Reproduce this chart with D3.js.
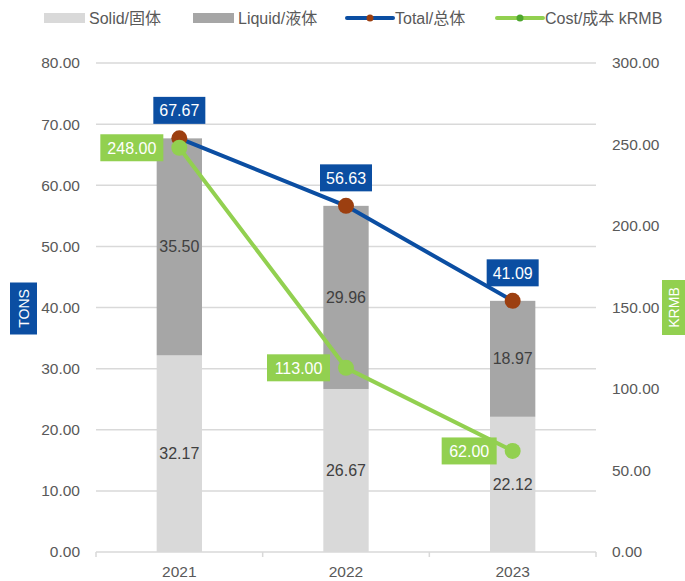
<!DOCTYPE html>
<html>
<head>
<meta charset="utf-8">
<script src="https://cdn.jsdelivr.net/npm/d3@7"></script>
<style>
  body { margin: 0; background: #fff; }
  text { font-family: "Liberation Sans", Arial, "Noto Sans CJK SC", sans-serif; }
</style>
</head>
<body>
<svg id="chart" width="685" height="581"></svg>
<script>
'use strict';

var years = ['2021', '2022', '2023']
  , solid = [32.17, 26.67, 22.12]
  , liquid = [35.50, 29.96, 18.97]
  , total = [67.67, 56.63, 41.09]
  , cost = [248.00, 113.00, 62.00]
  , leftTicks = [0, 10, 20, 30, 40, 50, 60, 70, 80]
  , rightTicks = [0, 50, 100, 150, 200, 250, 300]
  , legendNames = ['Solid/固体', 'Liquid/液体', 'Total/总体', 'Cost/成本 kRMB']
;

var width = 685
  , height = 581
  , margin = {top: 63, right: 90, bottom: 29, left: 96}
  , cSolid = '#d9d9d9'
  , cLiquid = '#a6a6a6'
  , cBlue = '#0b4ea2'
  , cBrown = '#9c3f10'
  , cGreen = '#92d050'
  , cText = '#595959'
  , cGrid = '#d9d9d9'
;

var svg = d3.select('#chart');
var plotLeft = margin.left
  , plotRight = width - margin.right + 1
  , plotTop = margin.top
  , plotBottom = height - margin.bottom;

var x = d3.scaleBand().domain(years).range([plotLeft, plotRight]).padding(0);
var yL = d3.scaleLinear().domain([0, 80]).range([plotBottom, plotTop]);
var yR = d3.scaleLinear().domain([0, 300]).range([plotBottom, plotTop]);
var barW = x.bandwidth() * 0.272;
var cx = function(d, i) { return x(years[i]) + x.bandwidth() / 2; };

// gridlines
svg.append('g').selectAll('line').data(leftTicks.slice(1)).enter().append('line')
  .attr('x1', plotLeft).attr('x2', plotRight)
  .attr('y1', function(d) { return yL(d); }).attr('y2', function(d) { return yL(d); })
  .attr('stroke', cGrid).attr('stroke-width', 1.5);

// left axis labels
svg.append('g').selectAll('text').data(leftTicks).enter().append('text')
  .attr('x', 80).attr('y', function(d) { return yL(d); })
  .attr('dy', '0.35em').attr('text-anchor', 'end')
  .attr('fill', cText).style('font-size', '15.5px')
  .text(function(d) { return d.toFixed(2); });

// right axis labels
svg.append('g').selectAll('text').data(rightTicks).enter().append('text')
  .attr('x', 612).attr('y', function(d) { return yR(d); })
  .attr('dy', '0.35em').attr('text-anchor', 'start')
  .attr('fill', cText).style('font-size', '15.5px')
  .text(function(d) { return d.toFixed(2); });

// stacked bars
var stackData = years.map(function(y, i) { return {year: y, solid: solid[i], liquid: liquid[i]}; });
var series = d3.stack().keys(['solid', 'liquid'])(stackData);
var colors = {solid: cSolid, liquid: cLiquid};

var layers = svg.append('g').selectAll('g').data(series).enter().append('g')
  .attr('fill', function(d) { return colors[d.key]; });

layers.selectAll('rect').data(function(d) { return d; }).enter().append('rect')
  .attr('x', function(d) { return x(d.data.year) + (x.bandwidth() - barW) / 2; })
  .attr('width', barW)
  .attr('y', function(d) { return yL(d[1]); })
  .attr('height', function(d) { return yL(d[0]) - yL(d[1]); });

layers.selectAll('text').data(function(d) { return d; }).enter().append('text')
  .attr('x', function(d) { return x(d.data.year) + x.bandwidth() / 2; })
  .attr('y', function(d) { return (yL(d[0]) + yL(d[1])) / 2; })
  .attr('dy', '0.35em').attr('text-anchor', 'middle')
  .attr('fill', '#404040').style('font-size', '16px')
  .text(function(d) { return (d[1] - d[0]).toFixed(2); });

// x axis
var xAxis = svg.append('g');
xAxis.append('line')
  .attr('x1', plotLeft).attr('x2', plotRight)
  .attr('y1', plotBottom).attr('y2', plotBottom)
  .attr('stroke', cGrid).attr('stroke-width', 1.5);
xAxis.selectAll('line.tick').data(years.concat(['end'])).enter().append('line')
  .attr('class', 'tick')
  .attr('x1', function(d, i) { return plotLeft + i * x.step(); })
  .attr('x2', function(d, i) { return plotLeft + i * x.step(); })
  .attr('y1', plotBottom).attr('y2', plotBottom + 5)
  .attr('stroke', cGrid).attr('stroke-width', 1.5);
xAxis.selectAll('text').data(years).enter().append('text')
  .attr('x', cx).attr('y', 572)
  .attr('dy', '0.35em').attr('text-anchor', 'middle')
  .attr('fill', cText).style('font-size', '15.5px')
  .text(function(d) { return d; });

// total line
var lineL = d3.line().x(cx).y(function(d) { return yL(d); });
var lineR = d3.line().x(cx).y(function(d) { return yR(d); });

svg.append('path').datum(total).attr('d', lineL)
  .attr('fill', 'none').attr('stroke', cBlue).attr('stroke-width', 4);
svg.append('g').selectAll('circle').data(total).enter().append('circle')
  .attr('cx', cx).attr('cy', function(d) { return yL(d); }).attr('r', 8)
  .attr('fill', cBrown);

// cost line
svg.append('path').datum(cost).attr('d', lineR)
  .attr('fill', 'none').attr('stroke', cGreen).attr('stroke-width', 4);
svg.append('g').selectAll('circle').data(cost).enter().append('circle')
  .attr('cx', cx).attr('cy', function(d) { return yR(d); }).attr('r', 8)
  .attr('fill', cGreen);

// total labels (box above point)
var tl = svg.append('g').selectAll('g').data(total).enter().append('g')
  .attr('transform', function(d, i) { return 'translate(' + cx(d, i) + ',' + (yL(d) - 28) + ')'; });
tl.append('rect').attr('x', -26).attr('y', -13.5).attr('width', 52).attr('height', 27).attr('fill', cBlue);
tl.append('text').attr('text-anchor', 'middle').attr('dy', '0.36em')
  .attr('fill', '#fff').style('font-size', '16px')
  .text(function(d) { return d.toFixed(2); });

// cost labels (box left of point)
var cl = svg.append('g').selectAll('g').data(cost).enter().append('g')
  .attr('transform', function(d, i) { return 'translate(' + (cx(d, i) - 16) + ',' + yR(d) + ')'; });
cl.append('rect')
  .attr('x', function(d) { return d >= 100 ? -63 : -55; })
  .attr('width', function(d) { return d >= 100 ? 63 : 55; })
  .attr('y', -13.5).attr('height', 27).attr('fill', cGreen);
cl.append('text').attr('text-anchor', 'middle').attr('dy', '0.36em')
  .attr('x', function(d) { return d >= 100 ? -31.5 : -27.5; })
  .attr('fill', '#fff').style('font-size', '16px')
  .text(function(d) { return d.toFixed(2); });

// axis titles
var tTons = svg.append('g').attr('transform', 'translate(23.5,308.5) rotate(-90)');
tTons.append('rect').attr('x', -26).attr('y', -13.5).attr('width', 52).attr('height', 27).attr('fill', cBlue);
tTons.append('text').attr('text-anchor', 'middle').attr('dy', '0.36em')
  .attr('fill', '#fff').style('font-size', '14px').text('TONS');

var tKrmb = svg.append('g').attr('transform', 'translate(674,307.5) rotate(-90)');
tKrmb.append('rect').attr('x', -27.5).attr('y', -12).attr('width', 55).attr('height', 24).attr('fill', cGreen);
tKrmb.append('text').attr('text-anchor', 'middle').attr('dy', '0.36em')
  .attr('fill', '#fff').style('font-size', '14px').text('KRMB');

// legend
var legX = [44, 193, 347, 497];
var leg = svg.append('g').selectAll('g').data(legendNames).enter().append('g')
  .attr('transform', function(d, i) { return 'translate(' + legX[i] + ',18)'; });
leg.each(function(d, i) {
  var g = d3.select(this);
  if (i < 2) {
    g.append('rect').attr('x', 0).attr('y', -5).attr('width', 41).attr('height', 10)
      .attr('fill', i === 0 ? cSolid : cLiquid);
  } else {
    g.append('line').attr('x1', 0).attr('x2', 46).attr('y1', 0).attr('y2', 0)
      .attr('stroke', i === 2 ? cBlue : cGreen).attr('stroke-width', 4)
      .attr('stroke-linecap', 'round');
    g.append('circle').attr('cx', 23).attr('cy', 0).attr('r', 3.5)
      .attr('fill', i === 2 ? cBrown : '#4ea72e');
  }
  g.append('text').attr('x', i < 2 ? 45 : 48).attr('dy', '0.35em')
    .attr('fill', cText).style('font-size', '16px').text(d);
});
</script>
</body>
</html>
